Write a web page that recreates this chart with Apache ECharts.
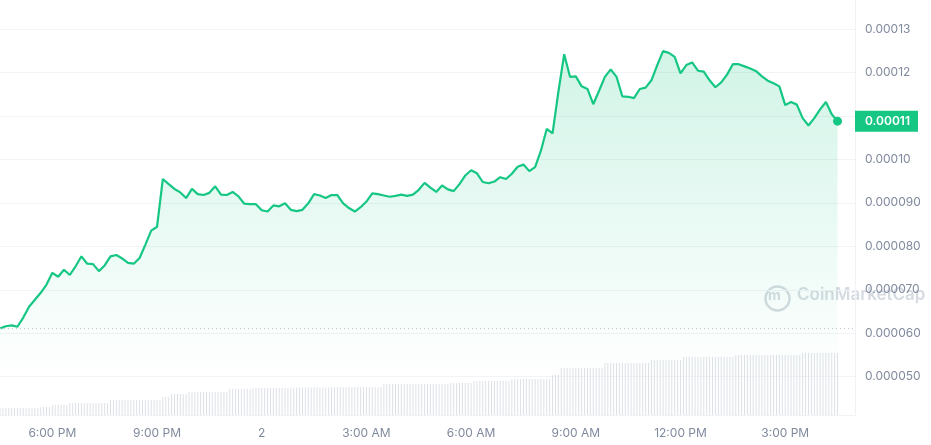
<!DOCTYPE html>
<html>
<head>
<meta charset="utf-8">
<script src="https://cdn.jsdelivr.net/npm/echarts@6/dist/echarts.min.js"></script>
<style>
html,body{margin:0;padding:0;background:#fff;}
#c{width:931px;height:445px;}
</style>
</head>
<body>
<div id="c"></div>
<script>
// Time in hours since midnight of day 1 (x axis). Prices in units of 1e-6.
const priceStartHour = 16.5;
const priceStepHours = 1 / 6;   // 10-minute samples
const priceMicro = [
  61.1, 61.6, 61.8, 61.5, 63.6, 66.1, 67.7, 69.3, 71.2, 73.9,
  73.0, 74.6, 73.4, 75.4, 77.7, 76.0, 75.9, 74.3, 75.6, 77.7,
  78.0, 77.2, 76.2, 76.0, 77.3, 80.4, 83.6, 84.5, 95.5, 94.3,
  93.2, 92.4, 91.1, 93.2, 92.0, 91.8, 92.3, 93.8, 91.9, 91.8,
  92.5, 91.5, 89.8, 89.7, 89.7, 88.3, 88.0, 89.4, 89.2, 89.9,
  88.4, 88.1, 88.4, 89.9, 92.0, 91.7, 91.1, 91.8, 91.8, 89.9,
  88.8, 88.0, 89.0, 90.3, 92.2, 92.0, 91.7, 91.4, 91.6, 91.9,
  91.6, 91.9, 93.0, 94.6, 93.5, 92.5, 94.0, 93.1, 92.7, 94.3,
  96.3, 97.5, 96.8, 94.8, 94.5, 94.9, 95.9, 95.5, 96.7, 98.3,
  98.8, 97.3, 98.2, 102.0, 107.0, 106.0, 115.5, 124.2, 119.0, 119.1,
  116.8, 116.2, 112.7, 115.8, 119.0, 120.7, 119.0, 114.5, 114.4, 114.1,
  116.2, 116.5, 118.2, 121.7, 124.9, 124.5, 123.6, 119.8, 121.7, 122.3,
  120.4, 120.2, 118.2, 116.6, 117.7, 119.5, 121.9, 121.9, 121.4, 120.9,
  120.3, 119.1, 118.1, 117.5, 116.8, 112.5, 113.2, 112.6, 109.5, 107.8,
  109.5, 111.5, 113.2, 110.4, 108.8
];
const volStepHours = 1 / 12;    // 5-minute bars
const volume = [
  7,7,7,7,7,7,7,7,7,7,7,7,7,7,
  8,8,8,8,
  10,10,10,10,10,10,
  12,12,12,12,12,12,12,12,12,12,12,12,12,12,
  15,15,15,15,15,15,15,15,15,15,15,15,15,15,15,15,15,15,
  18,18,18,
  21,21,21,21,21,21,
  23,23,23,23,23,23,23,23,23,23,23,23,23,23,
  26,26,26,26,26,26,26,26,
  27,27,27,27,27,27,27,27,27,27,27,27,27,27,
  27.5,27.5,27.5,27.5,27.5,27.5,27.5,27.5,27.5,27.5,27.5,27.5,27.5,27.5,
  28,28,28,28,28,28,28,28,28,28,28,28,28,28,28,28,28,
  31,31,31,31,31,31,31,31,31,31,31,31,31,31,31,31,31,31,31,31,31,31,31,
  32,32,32,32,32,32,32,32,
  34,34,34,34,34,34,34,34,34,34,34,34,34,
  36,36,36,36,36,36,36,36,36,36,36,36,36,36,
  40,40,40,
  47,47,47,47,47,47,47,47,47,47,47,47,47,47,47,
  52,52,52,52,52,52,52,52,52,52,52,52,52,52,52,52,
  55,55,55,55,55,55,55,55,55,55,55,
  58,58,58,58,58,58,58,58,58,58,58,58,58,58,58,58,58,58,
  60,60,60,60,60,60,60,60,60,60,60,60,60,60,60,60,60,60,60,60,60,60,60,
  62,62,62,62,62,62,62,62,62,62,62,62,62
];
const tickHours = [18, 21, 24, 27, 30, 33, 36, 39];
const tickLabels = ['6:00 PM', '9:00 PM', '2', '3:00 AM', '6:00 AM', '9:00 AM', '12:00 PM', '3:00 PM'];
const xMin = 16.5, xMax = 41;
const yMin = 50, yMax = 130, yStep = 10;

const fmtPrice = v => (v * 1e-6).toPrecision(2);
const priceData = priceMicro.map((v, i) => [priceStartHour + i * priceStepHours, v]);
const volData = volume.map((v, j) => [priceStartHour + j * volStepHours, v]);
const last = priceData[priceData.length - 1];

const green = '#16c784';
const txt = '#808a9d';
const font = 'Inter';

const chart = echarts.init(document.getElementById('c'));
chart.setOption({
  animation: false,
  backgroundColor: '#fff',
  textStyle: { fontFamily: font },
  grid: [
    { left: 0, right: 76, top: 29, bottom: 68.3 },
    { left: 0, right: 76, top: 0, bottom: 30 }
  ],
  xAxis: [
    { type: 'value', gridIndex: 0, min: xMin, max: xMax, show: false },
    {
      type: 'value', gridIndex: 1, min: xMin, max: xMax,
      axisLine: { show: true, lineStyle: { color: '#f0f2f5' } },
      axisTick: { show: false },
      splitLine: { show: false },
      axisLabel: {
        customValues: tickHours,
        formatter: v => tickLabels[tickHours.indexOf(v)],
        color: txt, fontSize: 12, fontFamily: font, margin: 12
      }
    }
  ],
  yAxis: [
    {
      type: 'value', gridIndex: 0, position: 'right',
      min: yMin, max: yMax, interval: yStep,
      axisLine: { show: false }, axisTick: { show: false },
      splitLine: { lineStyle: { color: '#f1f3f6' } },
      axisLabel: { formatter: fmtPrice, color: txt, fontSize: 12, fontFamily: font, margin: 10 }
    },
    {
      type: 'value', gridIndex: 1, position: 'right', min: 0, max: 415,
      axisLine: { show: true, lineStyle: { color: '#f0f2f5' } },
      axisTick: { show: false }, axisLabel: { show: false }, splitLine: { show: false }
    }
  ],
  graphic: [
    { type: 'circle', left: 763, top: 284, shape: { r: 12 }, style: { fill: 'none', stroke: '#d6dbe2', lineWidth: 2.5 }, silent: true },
    { type: 'text', left: 768, top: 289, style: { text: 'm', fill: '#d6dbe2', font: 'bold 14px Inter' }, silent: true },
    { type: 'text', left: 797, top: 286, style: { text: 'CoinMarketCap', fill: '#d6dbe2', font: '600 17px Inter' }, silent: true }
  ],
  series: [
    {
      type: 'bar', xAxisIndex: 1, yAxisIndex: 1,
      data: volData, barWidth: 1,
      itemStyle: { color: '#dde1e7' }, silent: true
    },
    {
      type: 'line', xAxisIndex: 0, yAxisIndex: 0,
      data: priceData, symbol: 'none', smooth: false,
      lineStyle: { color: green, width: 2.2 },
      areaStyle: {
        color: new echarts.graphic.LinearGradient(0, 0, 0, 1, [
          { offset: 0, color: 'rgba(22,199,132,0.28)' },
          { offset: 1, color: 'rgba(22,199,132,0)' }
        ])
      },
      markLine: {
        silent: true, symbol: ['none', 'none'],
        data: [
          {
            yAxis: priceMicro[0],
            lineStyle: { color: '#c3c8d0', type: [1, 3], width: 1 },
            label: { show: false }
          },
          {
            yAxis: last[1],
            lineStyle: { color: 'rgba(0,0,0,0)', width: 0 },
            label: {
              show: true, position: 'end', distance: 0,
              formatter: () => fmtPrice(last[1]),
              backgroundColor: green, color: '#fff',
              fontFamily: font, fontSize: 12, fontWeight: 600,
              padding: [5, 8, 4, 10], borderRadius: 0
            }
          }
        ]
      },
      markPoint: {
        silent: true,
        data: [{ coord: last, symbol: 'circle', symbolSize: 9, itemStyle: { color: green }, label: { show: false } }]
      }
    }
  ]
});
</script>
</body>
</html>
